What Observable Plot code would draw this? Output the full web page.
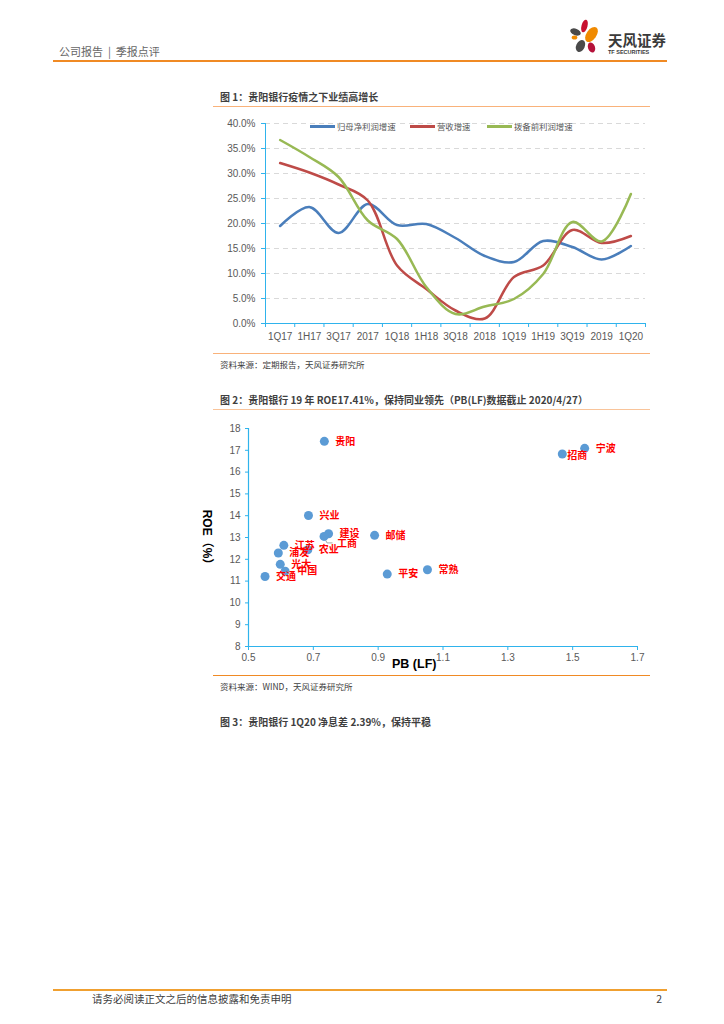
<!DOCTYPE html>
<html><head><meta charset="utf-8">
<script src="https://cdn.jsdelivr.net/npm/d3@7"></script>
<script src="https://cdn.jsdelivr.net/npm/@observablehq/plot@0.6"></script>
<style>
html,body{margin:0;padding:0;background:#fff}
body{width:724px;height:1024px;position:relative;overflow:hidden;font-family:"Liberation Sans","Noto Sans CJK SC",sans-serif}
.t{position:absolute;white-space:nowrap;line-height:1;font-family:"Noto Sans CJK SC","Liberation Sans",sans-serif}
.hr{position:absolute;height:0}
.box{position:absolute}
.sw{position:absolute;height:2.5px}
</style></head>
<body>
<div id="page"></div>
<script>
// ---------------- data ----------------
const quarters = ["1Q17","1H17","3Q17","2017","1Q18","1H18","3Q18","2018","1Q19","1H19","3Q19","2019","1Q20"];
const netProfitGrowth = [19.5,23.3,18.1,23.9,19.7,19.9,17.1,13.5,12.3,16.5,15.3,12.8,15.5];
const revenueGrowth   = [32.1,30.2,27.8,24.6,11.6,6.9,2.6,1.0,9.3,11.6,18.7,16.1,17.5];
const ppopGrowth      = [36.7,33.3,29.3,20.6,16.9,7.3,1.9,3.4,4.9,9.9,20.3,16.4,25.9];
const seriesNames = ["归母净利润增速","营收增速","拨备前利润增速"];
const yTicks1 = [0,5,10,15,20,25,30,35,40];

const banks = ["贵阳","宁波","招商","兴业","建设","工商","邮储","农业","江苏","浦发","光大","中国","交通","平安","常熟"];
const pbLF  = [0.734,1.537,1.468,0.685,0.747,0.733,0.889,0.683,0.609,0.592,0.598,0.613,0.551,0.928,1.052];
const roe   = [17.41,17.09,16.83,14.01,13.17,13.05,13.10,12.44,12.64,12.29,11.77,11.45,11.21,11.32,11.52];
const xTicks2 = [0.5,0.7,0.9,1.1,1.3,1.5,1.7];
const yTicks2 = [8,9,10,11,12,13,14,15,16,17,18];

// ---------------- styles ----------------
const seriesColors = ["#4a7ebb","#be4b48","#98b954"];
const axisBlue = "#2fb3ec";
const gray = "#595959";
const labelNudge = {"招商":[5,2],"工商":[13,7],"中国":[12,0]};

const page = document.getElementById("page");
function text(str, x, cy, size, opts = {}) {
  const d = document.createElement("div");
  d.className = "t";
  d.textContent = str;
  d.style.fontSize = size + "px";
  d.style.height = size + "px";
  d.style.top = (cy - size/2) + "px";
  d.style.left = x + "px";
  d.style.color = opts.color || "#404040";
  if (opts.bold) d.style.fontWeight = "bold";
  if (opts.font) d.style.fontFamily = opts.font;
  if (opts.transform) d.style.transform = opts.transform;
  if (opts.anchor === "end") { d.style.left = "auto"; d.style.right = (724 - x) + "px"; }
  page.appendChild(d);
  return d;
}
function hline(x1, x2, y, w, color) {
  const d = document.createElement("div");
  d.className = "hr";
  d.style.left = x1 + "px"; d.style.width = (x2 - x1) + "px";
  d.style.top = (y - w/2) + "px"; d.style.borderTop = w + "px solid " + color;
  page.appendChild(d);
}

// ---------------- header ----------------
const hdr = text("公司报告 | 季报点评", 59, 51, 11, {color:"#666"});
hdr.style.whiteSpace = "pre";
hdr.textContent = "公司报告  |  季报点评";
hline(53, 667, 61, 2, "#f08a24");
const logo = document.createElementNS("http://www.w3.org/2000/svg","svg");
logo.setAttribute("width","40"); logo.setAttribute("height","40");
logo.style.position = "absolute"; logo.style.left = "566px"; logo.style.top = "17px";
logo.innerHTML = `
 <g transform="translate(-566,-17)">
 <ellipse cx="584.5" cy="26" rx="3" ry="6.5" transform="rotate(15 584.5 26)" fill="#c8102e"/>
 <ellipse cx="591.5" cy="34.5" rx="5" ry="8.5" transform="rotate(35 591.5 34.5)" fill="#f08a00"/>
 <ellipse cx="575.5" cy="32" rx="5.5" ry="3.3" transform="rotate(20 575.5 32)" fill="#4a4a4a"/>
 <ellipse cx="574.5" cy="37.5" rx="2.8" ry="2" fill="#f08a00"/>
 <ellipse cx="580.5" cy="46" rx="4.3" ry="6.3" transform="rotate(25 580.5 46)" fill="#4a4a4a"/>
 <ellipse cx="591.5" cy="47.5" rx="3.5" ry="5.2" transform="rotate(-20 591.5 47.5)" fill="#b5123a"/>
 </g>`;
page.appendChild(logo);
text("天风证券", 608, 40, 14.5, {color:"#3a3a3a", bold:true});
text("TF SECURITIES", 608, 52.5, 5.5, {color:"#3a3a3a", bold:true, font:"Liberation Sans"});

// ---------------- figure 1 ----------------
text("图 1：贵阳银行疫情之下业绩高增长", 220, 97, 10, {bold:true, color:"#3f3f3f"});
hline(213, 650, 107, 1.5, "#f9b27a");

const lineData = [];
[netProfitGrowth, revenueGrowth, ppopGrowth].forEach((arr, s) =>
  arr.forEach((v, i) => lineData.push({i, v, series: seriesNames[s]})));

const chart1 = Plot.plot({
  width: 440, height: 235,
  marginTop: 13, marginBottom: 22, marginLeft: 52, marginRight: 8,
  style: {fontFamily: "Liberation Sans, Noto Sans CJK SC, sans-serif", fontSize: "10px", background: "transparent"},
  x: {domain: [-0.5, 12.5]},
  y: {domain: [0, 40]},
  color: {domain: seriesNames, range: seriesColors},
  marks: [
    Plot.gridY(yTicks1.filter(d => d > 0), {stroke: "#d9d9d9", strokeOpacity: 1, strokeDasharray: "5,4"}),
    Plot.axisY(yTicks1, {tickSize: 4, tickPadding: 6, stroke: axisBlue, fill: gray, tickFormat: d => d.toFixed(1) + "%", label: null}),
    Plot.axisX(d3.range(13).map(i => i - 0.5).concat([12.5]), {tickSize: 4, stroke: axisBlue, tickFormat: () => "", label: null}),
    Plot.axisX(d3.range(13), {tickSize: 0, tickPadding: 9, fill: gray, tickFormat: i => quarters[i], label: null}),
    Plot.ruleX([-0.5], {stroke: axisBlue}),
    Plot.ruleY([0], {stroke: axisBlue}),
    Plot.line(lineData, {x: "i", y: "v", z: "series", stroke: "series", curve: "catmull-rom", strokeWidth: 2.5})
  ]
});
const c1 = document.createElement("div");
c1.className = "box"; c1.style.left = "213px"; c1.style.top = "110px";
c1.appendChild(chart1); page.appendChild(c1);

// legend
const legendX = [310, 410, 487];
seriesNames.forEach((name, k) => {
  const sw = document.createElement("div");
  sw.className = "sw"; sw.style.left = legendX[k] + "px"; sw.style.width = "25px";
  sw.style.top = "125px"; sw.style.background = seriesColors[k];
  page.appendChild(sw);
  text(name, legendX[k] + 27, 126.5, 8.4, {color: gray});
});

hline(213, 650, 354, 1.5, "#f9b27a");
text("资料来源：定期报告，天风证券研究所", 220, 364, 8.5, {color:"#404040"});

// ---------------- figure 2 ----------------
text("图 2：贵阳银行 19 年 ROE17.41%，保持同业领先（PB(LF)数据截止 2020/4/27）", 220, 400, 10, {bold:true, color:"#3f3f3f"});
hline(213, 650, 410, 1.5, "#f9c49a");

const bankData = banks.map((name, k) => ({name, pb: pbLF[k], roe: roe[k]}));
const plain = bankData.filter(d => !labelNudge[d.name]);
const nudged = bankData.filter(d => labelNudge[d.name]);

function leader(index, scales) {
  const g = document.createElementNS("http://www.w3.org/2000/svg", "g");
  if (!scales || !scales.x || !scales.y) return g;
  const d = bankData.find(b => b.name === "工商");
  const x = scales.x(d.pb), y = scales.y(d.roe);
  const p = document.createElementNS("http://www.w3.org/2000/svg", "path");
  p.setAttribute("d", `M${x + 1},${y + 2}L${x + 3.5},${y + 7}L${x + 9},${y + 7}`);
  p.setAttribute("fill", "none"); p.setAttribute("stroke", "#a6a6a6"); p.setAttribute("stroke-width", "1");
  g.appendChild(p);
  return g;
}

const chart2 = Plot.plot({
  width: 470, height: 260,
  marginTop: 8, marginBottom: 34, marginLeft: 68, marginRight: 13,
  style: {fontFamily: "Liberation Sans, Noto Sans CJK SC, sans-serif", fontSize: "10px", background: "transparent"},
  x: {domain: [0.5, 1.7]},
  y: {domain: [8, 18]},
  marks: [
    Plot.axisY(yTicks2, {tickSize: 3, tickPadding: 5, stroke: axisBlue, fill: gray, tickFormat: d => String(d), label: null}),
    Plot.axisX(xTicks2, {tickSize: 4, tickPadding: 3, stroke: axisBlue, fill: gray, tickFormat: d => d.toFixed(1), label: null}),
    Plot.ruleX([0.5], {stroke: axisBlue, strokeWidth: 1.2}),
    Plot.ruleY([8], {stroke: axisBlue, strokeWidth: 1.2}),
    leader,
    Plot.dot(bankData, {x: "pb", y: "roe", r: 4.5, fill: "#5b9bd5"}),
    Plot.text(plain, {x: "pb", y: "roe", text: "name", dx: 11, textAnchor: "start", fill: "#ff0000", fontWeight: "bold", fontSize: 10, fontFamily: "Noto Sans CJK SC"}),
    ...nudged.map(d => Plot.text([d], {x: "pb", y: "roe", text: "name", dx: labelNudge[d.name][0], dy: labelNudge[d.name][1], textAnchor: "start", fill: "#ff0000", fontWeight: "bold", fontSize: 10, fontFamily: "Noto Sans CJK SC"}))
  ]
});
const c2 = document.createElement("div");
c2.className = "box"; c2.style.left = "180px"; c2.style.top = "420px";
c2.appendChild(chart2); page.appendChild(c2);

text("PB (LF)", 392, 664.5, 12.5, {bold:true, color:"#000", font:"Liberation Sans, Noto Sans CJK SC"});
const yt = text("ROE（%）", 207, 540, 12, {bold:true, color:"#000", font:"Liberation Sans, Noto Sans CJK SC"});
yt.style.left = "0px"; yt.style.width = "414px"; yt.style.textAlign = "center";
yt.style.transform = "rotate(90deg)";

hline(213, 650, 676, 1.5, "#f08a24");
text("资料来源：WIND，天风证券研究所", 220, 686, 8.5, {color:"#404040"});

// ---------------- figure 3 title ----------------
text("图 3：贵阳银行 1Q20 净息差 2.39%，保持平稳", 220, 722, 10, {bold:true, color:"#3f3f3f"});

// ---------------- footer ----------------
hline(53, 667, 990, 2, "#f0a030");
text("请务必阅读正文之后的信息披露和免责申明", 92, 999, 10.5, {color:"#404040"});
text("2", 662, 999, 10.5, {color:"#404040", anchor:"end"});
</script>
</body></html>
